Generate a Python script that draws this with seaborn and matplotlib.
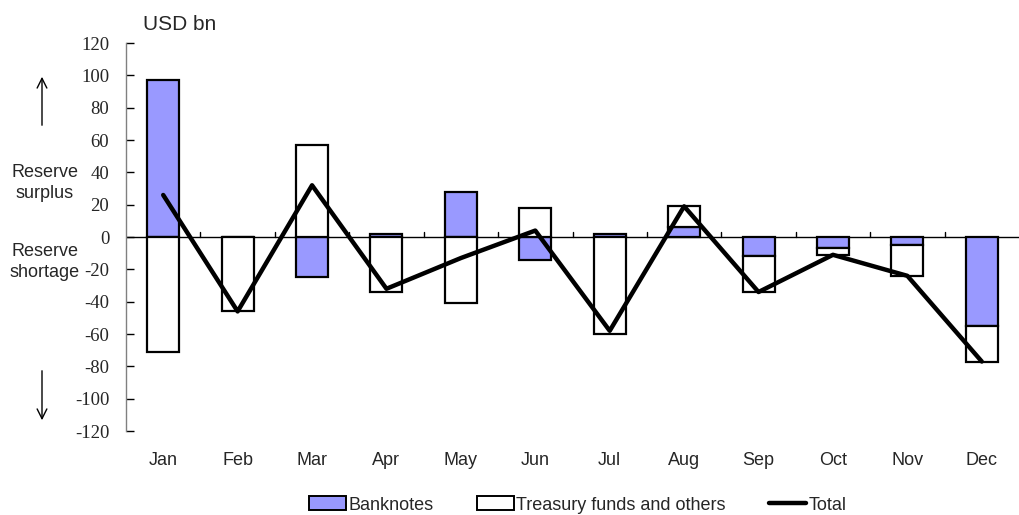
import matplotlib
matplotlib.use("Agg")
import matplotlib.pyplot as plt
from matplotlib.lines import Line2D
from matplotlib.patches import Patch, FancyArrowPatch
import numpy as np
import pandas as pd
import seaborn as sns

months = ["Jan", "Feb", "Mar", "Apr", "May", "Jun", "Jul", "Aug", "Sep", "Oct", "Nov", "Dec"]
banknotes = [97, 0, -25, 2, 28, -14, 2, 6, -12, -7, -5, -55]
treasury = [-71, -46, 57, -34, -41, 18, -60, 13, -22, -4, -19, -22]
total = [b + t for b, t in zip(banknotes, treasury)]
yticks = list(range(-120, 121, 20))

sns.set_style("white")
plt.rcParams["font.family"] = ["Liberation Sans", "DejaVu Sans"]

BLUE = "#9999FF"
df = pd.DataFrame({"month": months, "banknotes": banknotes,
                   "treasury": treasury, "total": total})
df["x"] = np.arange(len(months))

fig = plt.figure(figsize=(10.19, 5.15), dpi=100)
ax = fig.add_axes([126 / 1019, 0.163, 893 / 1019, 0.7535])

width = 0.43
# Banknotes drawn from zero
sns.barplot(data=df, x="x", y="banknotes", ax=ax, color=BLUE, width=width,
            edgecolor="black", linewidth=1.6, saturation=1, native_scale=True,
            zorder=2)
# Treasury stacks on banknotes when signs agree, otherwise starts from zero
bottoms = [b if (b * t > 0) else 0 for b, t in zip(banknotes, treasury)]
ax.bar(df["x"], df["treasury"], bottom=bottoms, width=width, color="white",
       edgecolor="black", linewidth=1.6, zorder=2)
sns.lineplot(data=df, x="x", y="total", ax=ax, color="black", linewidth=3.2,
             zorder=3, legend=False)

ax.set_xlim(-0.5, 11.5)
ax.set_ylim(-120, 120)
ax.set_yticks(yticks)
ax.set_yticklabels([str(v) for v in yticks], family="Liberation Serif", fontsize=13.5)
ax.tick_params(axis="y", direction="in", length=6, width=1, color="black",
               pad=12, left=True)
ax.set_xticks([])
ax.set_xlabel("")
ax.set_ylabel("")
for s in ["top", "right", "bottom"]:
    ax.spines[s].set_visible(False)
ax.spines["left"].set_color("#808080")
ax.spines["left"].set_linewidth(1)

# category axis along zero with ticks between months
ax.axhline(0, color="black", linewidth=1, zorder=1.5)
for b in np.arange(0.5, 11.5, 1):
    ax.plot([b, b], [0, 3], color="black", linewidth=1, zorder=1.5)
for i, m in enumerate(months):
    ax.text(i, -138, m, ha="center", va="center", fontsize=13)

fig.text(143 / 1019, 1 - 25 / 515, "USD bn", fontsize=15, ha="left", va="center")
fig.text(45 / 1019, 1 - 183 / 515, "Reserve\nsurplus", fontsize=13, ha="center",
         va="center", linespacing=1.25)
fig.text(45 / 1019, 1 - 262 / 515, "Reserve\nshortage", fontsize=13, ha="center",
         va="center", linespacing=1.25)
fig.add_artist(FancyArrowPatch(
    (42 / 1019, 1 - 128 / 515), (42 / 1019, 1 - 74 / 515), transform=fig.transFigure,
    arrowstyle="->,head_length=7,head_width=3.5", color="black", linewidth=1))
fig.add_artist(FancyArrowPatch(
    (42 / 1019, 1 - 368 / 515), (42 / 1019, 1 - 423 / 515), transform=fig.transFigure,
    arrowstyle="->,head_length=7,head_width=3.5", color="black", linewidth=1))

handles = [Patch(facecolor=BLUE, edgecolor="black", linewidth=1.4),
           Patch(facecolor="white", edgecolor="black", linewidth=1.4),
           Line2D([], [], color="black", linewidth=3.2)]
fig.legend(handles, ["Banknotes", "Treasury funds and others", "Total"],
           loc="center", bbox_to_anchor=(0.567, 1 - 505 / 515), ncol=3,
           frameon=False, fontsize=13, handlelength=2.05, handleheight=0.8,
           handletextpad=0.15, columnspacing=2.4, borderaxespad=0)

fig.savefig("out.png", dpi=100)
